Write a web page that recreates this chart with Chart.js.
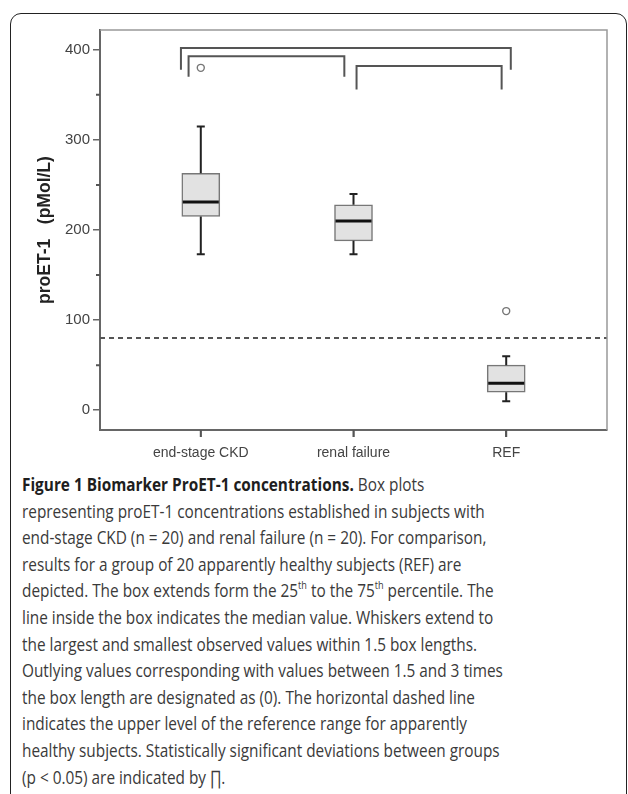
<!DOCTYPE html>
<html>
<head>
<meta charset="utf-8">
<script src="https://cdn.jsdelivr.net/npm/chart.js@4.4.0/dist/chart.umd.min.js"></script>
<style>
  html, body { margin: 0; padding: 0; background: #fff; width: 628px; height: 794px; overflow: hidden; }
  #frame { position: absolute; left: 10px; top: 13px; width: 615px; height: 820px;
           border: 1.5px solid #222; border-radius: 11px; }
  #chartBox { position: absolute; left: 0; top: 0; width: 628px; height: 470px; }
  #caption { position: absolute; left: 22px; top: 471px; width: 700px;
             font-family: "Open Sans", sans-serif; font-size: 18.5px; line-height: 26.6px;
             color: #3a3a3a; transform-origin: 0 0; transform: scaleX(0.83); white-space: nowrap; }
  #caption b { color: #1e1e1e; }
  #caption sup { font-size: 11px; line-height: 0; vertical-align: 8px; }
</style>
</head>
<body>
<div id="frame"></div>
<div id="chartBox"><canvas id="myChart"></canvas></div>
<div id="caption">
<b>Figure 1 Biomarker ProET-1 concentrations.</b> Box plots<br>
representing proET-1 concentrations established in subjects with<br>
end-stage CKD (n = 20) and renal failure (n = 20). For comparison,<br>
results for a group of 20 apparently healthy subjects (REF) are<br>
depicted. The box extends form the 25<sup>th</sup> to the 75<sup>th</sup> percentile. The<br>
line inside the box indicates the median value. Whiskers extend to<br>
the largest and smallest observed values within 1.5 box lengths.<br>
Outlying values corresponding with values between 1.5 and 3 times<br>
the box length are designated as (0). The horizontal dashed line<br>
indicates the upper level of the reference range for apparently<br>
healthy subjects. Statistically significant deviations between groups<br>
(p &lt; 0.05) are indicated by &prod;.
</div>
<script>
// box plot data (pMol/L)
var groups = ["end-stage CKD", "renal failure", "REF"];
var whiskLo = [173, 173, 10];
var q1 = [215, 188, 20];
var median = [231, 210, 30];
var q3 = [263, 228, 50];
var whiskHi = [315, 240, 60];
var outliers = [[380], [], [110]];
var refUpper = 80;
var yTicks = [0, 100, 200, 300, 400];
var yMinor = [50, 150, 250, 350];
// significance brackets: [from x, to x, top, foot]
var brackets = [
  [0.87, 3.03, 402, 378],
  [0.92, 1.94, 393, 370],
  [2.02, 2.97, 382, 356]
];

var xMin = 0.34, xMax = 3.66;
var yMin = -22, yMax = 422;

var boxData = groups.map(function (g, i) { return { x: i + 1, y: [q1[i], q3[i]] }; });
var outlierData = [];
outliers.forEach(function (list, i) {
  list.forEach(function (v) { outlierData.push({ x: i + 1, y: v }); });
});

var bracketSets = brackets.map(function (b) {
  return {
    type: "line",
    data: [{ x: b[0], y: b[3] }, { x: b[0], y: b[2] }, { x: b[1], y: b[2] }, { x: b[1], y: b[3] }],
    borderColor: "#555",
    borderWidth: 2,
    pointRadius: 0,
    fill: false,
    tension: 0
  };
});

var axisFont = "'Liberation Sans', Arial, sans-serif";

// whiskers, medians, extra ticks and the frame
var boxExtras = {
  id: "boxExtras",
  afterDraw: function (chart) {
    var ctx = chart.ctx, x = chart.scales.x, y = chart.scales.y;
    var a = chart.chartArea;
    var meta = chart.getDatasetMeta(0);
    ctx.save();
    ctx.strokeStyle = "#222";
    ctx.lineWidth = 2;
    groups.forEach(function (g, i) {
      var cx = x.getPixelForValue(i + 1);
      var cap = 4;
      ctx.beginPath();
      ctx.moveTo(cx, y.getPixelForValue(q3[i]));
      ctx.lineTo(cx, y.getPixelForValue(whiskHi[i]));
      ctx.moveTo(cx - cap, y.getPixelForValue(whiskHi[i]));
      ctx.lineTo(cx + cap, y.getPixelForValue(whiskHi[i]));
      ctx.moveTo(cx, y.getPixelForValue(q1[i]));
      ctx.lineTo(cx, y.getPixelForValue(whiskLo[i]));
      ctx.moveTo(cx - cap, y.getPixelForValue(whiskLo[i]));
      ctx.lineTo(cx + cap, y.getPixelForValue(whiskLo[i]));
      ctx.stroke();
    });
    ctx.lineWidth = 3;
    ctx.strokeStyle = "#111";
    groups.forEach(function (g, i) {
      var cx = x.getPixelForValue(i + 1);
      var half = meta.data[i].width / 2;
      var my = y.getPixelForValue(median[i]);
      ctx.beginPath();
      ctx.moveTo(cx - half + 1, my);
      ctx.lineTo(cx + half - 1, my);
      ctx.stroke();
    });
    // minor y ticks and category ticks
    ctx.strokeStyle = "#555";
    ctx.lineWidth = 2;
    ctx.beginPath();
    yMinor.forEach(function (v) {
      var py = y.getPixelForValue(v);
      ctx.moveTo(a.left - 4, py);
      ctx.lineTo(a.left, py);
    });
    groups.forEach(function (g, i) {
      var px = x.getPixelForValue(i + 1);
      ctx.moveTo(px, a.bottom);
      ctx.lineTo(px, a.bottom + 7);
    });
    ctx.stroke();
    // top and right edges of the plot frame
    ctx.strokeStyle = "#999";
    ctx.lineWidth = 1.5;
    ctx.beginPath();
    ctx.moveTo(a.left, a.top);
    ctx.lineTo(a.right, a.top);
    ctx.lineTo(a.right, a.bottom);
    ctx.stroke();
    ctx.restore();
  }
};

new Chart("myChart", {
  type: "bar",
  data: {
    datasets: [{
      type: "bar",
      data: boxData,
      backgroundColor: "#e2e2e2",
      borderColor: "#777",
      borderWidth: 1.5,
      borderSkipped: false,
      barThickness: 38
    }, {
      type: "scatter",
      data: outlierData,
      pointRadius: 3.5,
      pointBackgroundColor: "#fff",
      pointBorderColor: "#777",
      pointBorderWidth: 1.4
    }, {
      type: "line",
      data: [{ x: xMin, y: refUpper }, { x: xMax, y: refUpper }],
      borderColor: "#555",
      borderWidth: 2,
      borderDash: [5, 4],
      pointRadius: 0
    }].concat(bracketSets)
  },
  options: {
    responsive: true,
    maintainAspectRatio: false,
    animation: false,
    layout: { padding: { left: 0, top: 30, right: 21, bottom: 0 } },
    plugins: { legend: { display: false }, tooltip: { enabled: false } },
    scales: {
      x: {
        type: "linear",
        offset: false,
        min: xMin,
        max: xMax,
        afterBuildTicks: function (s) { s.ticks = groups.map(function (g, i) { return { value: i + 1 }; }); },
        afterFit: function (s) { s.height = 40; },
        ticks: {
          callback: function (v) { return groups[v - 1] || ""; },
          color: "#444",
          font: { family: axisFont, size: 14 },
          padding: 8,
          maxRotation: 0
        },
        grid: { offset: false, drawOnChartArea: false, tickLength: 7, color: "#666", lineWidth: 1.5 },
        border: { color: "#666", width: 2 }
      },
      y: {
        min: yMin,
        max: yMax,
        afterBuildTicks: function (s) { s.ticks = yTicks.map(function (v) { return { value: v }; }); },
        afterFit: function (s) { s.width = 100; },
        ticks: {
          color: "#444",
          font: { family: axisFont, size: 15 },
          padding: 3
        },
        grid: { drawOnChartArea: false, tickLength: 7, color: "#666", lineWidth: 1.5 },
        border: { color: "#666", width: 2 },
        title: {
          display: true,
          text: "proET-1   (pMol/L)",
          color: "#222",
          font: { family: axisFont, size: 17.5, weight: "bold" },
          padding: { top: 35, bottom: 0 }
        }
      }
    }
  },
  plugins: [boxExtras]
});
</script>
</body>
</html>
